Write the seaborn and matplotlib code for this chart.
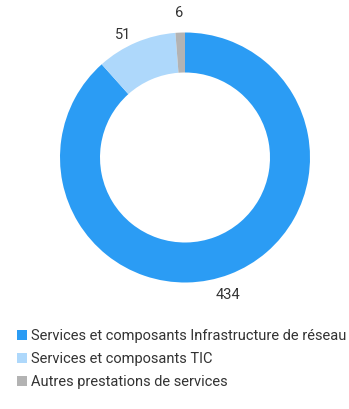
import matplotlib
matplotlib.use("Agg")
import numpy as np
import matplotlib.pyplot as plt
from matplotlib.patches import Patch
import seaborn as sns

categories = [
    "Services et composants Infrastructure de réseau",
    "Services et composants TIC",
    "Autres prestations de services",
]
values = [434, 51, 6]
colors = ["#2b9cf4", "#aed8fb", "#b3b3b3"]

sns.set_theme(style="white")
plt.rcParams["font.family"] = ["Roboto", "DejaVu Sans"]

W, H = 349, 409
fig = plt.figure(figsize=(W / 100, H / 100), dpi=100)

# donut: centre (185, 157.5) px, outer radius 125 px
cx, cy, r = 185, 157.5, 125
ax = fig.add_axes([(cx - r) / W, (H - cy - r) / H, 2 * r / W, 2 * r / H])
wedges, _ = ax.pie(
    values,
    colors=colors,
    startangle=90,
    counterclock=False,
    radius=1,
    wedgeprops=dict(width=0.32, linewidth=0),
)

# value labels just outside the ring, nudged in points
nudges = [(-6.5, -1.5), (-3.5, -7.5), (0, 0)]
for w, v, (dx, dy) in zip(wedges, values, nudges):
    ang = np.deg2rad((w.theta1 + w.theta2) / 2)
    ax.annotate(
        str(v),
        xy=(1.16 * np.cos(ang), 1.16 * np.sin(ang)),
        xytext=(dx, dy),
        textcoords="offset points",
        ha="center",
        va="center",
        fontsize=10.5,
        color="#333333",
        annotation_clip=False,
    )

ax.set_xlim(-1, 1)
ax.set_ylim(-1, 1)
ax.set_aspect("equal")
ax.axis("off")

handles = [Patch(facecolor=c, edgecolor="none") for c in colors]
fig.legend(
    handles,
    categories,
    loc="upper left",
    bbox_to_anchor=(10 / W, 1 - 322 / H),
    frameon=False,
    fontsize=10.5,
    handlelength=0.68,
    handleheight=0.68,
    handletextpad=0.25,
    labelspacing=0.6,
    borderpad=0,
    labelcolor="#333333",
)

fig.savefig("out.png", dpi=100)
